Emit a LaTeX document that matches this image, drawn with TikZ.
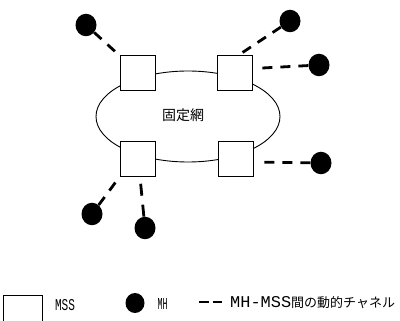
\documentclass[tikz,border=0pt]{standalone}
\usepackage{fontspec}
\setmainfont{Liberation Mono}
\newfontfamily\jp{Noto Sans CJK JP}
\usetikzlibrary{shapes.geometric}
\begin{document}
\begin{tikzpicture}[x=1pt,y=-1pt,
  mss/.style={draw,fill=white,minimum size=35pt,inner sep=0pt,line width=1pt},
  mh/.style={ellipse,fill=black,minimum width=21pt,minimum height=22.5pt,inner sep=0pt},
  link/.style={line width=2.8pt,dash pattern=on 10pt off 8pt},
  lat/.style={inner sep=0pt,anchor=center}]
\useasboundingbox (0,0) rectangle (400,321);
\clip (0,0) rectangle (400,321);
% fixed network
\node[ellipse,draw,line width=0.9pt,minimum width=184pt,minimum height=91pt,inner sep=0pt] (net) at (188,116.5) {};
\node[font=\jp\fontsize{14pt}{14pt}\selectfont,inner sep=0pt] (label) at (183,115) {固定網};
% MSS
\node[mss] (tl) at (137.5,73.5) {};
\node[mss] (tr) at (235,73.5) {};
\node[mss] (bl) at (137.5,159) {};
\node[mss] (br) at (236,159) {};
% MH
\node[mh] (c1) at (86,25) {};
\node[mh] (c2) at (290,21) {};
\node[mh] (c3) at (319,65) {};
\node[mh] (c4) at (321,163) {};
\node[mh] (c5) at (92,214) {};
\node[mh] (c6) at (145,228) {};
% dynamic channels
\draw[link] (c1) -- (tl.north west);
\draw[link] (c2) -- ([xshift=3pt]tr.north);
\draw[link,shorten >=5pt] (c3) -- ([yshift=5pt]tr.east);
\draw[link,shorten >=6pt] (c4) -- ([yshift=-3pt]br.east);
\draw[link,shorten >=4pt] (c5) -- (bl.south west);
\draw[link,dash pattern=on 12pt off 9pt] (c6) -- ([xshift=2.5pt]bl.south);
% legend
\node[draw,line width=1pt,minimum size=39pt,inner sep=0pt] (lmss) at (22.5,315.5) {};
\node[lat] (tmss) at (65,305) {\resizebox{20pt}{11pt}{MSS}};
\node[mh,minimum width=19pt,minimum height=20pt] (lmh) at (135,303) {};
\node[lat] (tmh) at (162.5,304) {\resizebox{10pt}{11pt}{MH}};
\coordinate (la) at (199,302);
\coordinate (lb) at (222,302);
\draw[line width=2.8pt,dash pattern=on 9.5pt off 4pt] (la) -- (lb);
\node[inner sep=0pt,anchor=west] (tch) at (230,303) {\resizebox{61pt}{11pt}{MH-MSS}\jp\fontsize{13pt}{13pt}\selectfont 間の動的チャネル};
\end{tikzpicture}
\end{document}
